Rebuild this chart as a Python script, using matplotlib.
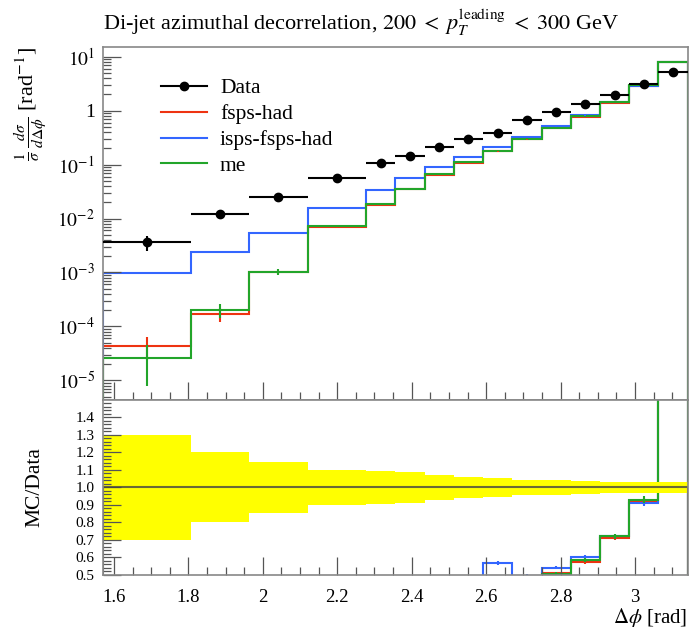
import matplotlib
matplotlib.use("Agg")
import matplotlib.pyplot as plt
from matplotlib.lines import Line2D
from matplotlib.ticker import MultipleLocator, FixedLocator, LogLocator, NullFormatter, FuncFormatter
import numpy as np

# bin edges in delta phi [rad]
edges = [1.571, 1.806, 1.963, 2.121, 2.278, 2.356, 2.435, 2.513, 2.592,
         2.670, 2.749, 2.827, 2.906, 2.985, 3.063, 3.142]

data = [3.6e-3, 1.22e-2, 2.49e-2, 5.7e-2, 0.109, 0.143, 0.21, 0.295, 0.381,
        0.664, 0.946, 1.35, 1.98, 3.16, 5.2]
data_rel = [0.30, 0.20, 0.145, 0.10, 0.095, 0.09, 0.072, 0.062, 0.052,
            0.045, 0.042, 0.038, 0.033, 0.03, 0.03]

fsps = [4.3e-5, 1.72e-4, 1.0e-3, 6.9e-3, 0.018, 0.0355, 0.064, 0.108, 0.178,
        0.295, 0.482, 0.778, 1.41, 2.91, 8.0]
fsps_rel = [0.45, 0.30, 0.06, 0.03, 0.03, 0.02, 0.02, 0.02, 0.02,
            0.02, 0.02, 0.02, 0.02, 0.02, 0.02]
isps = [9.8e-4, 2.39e-3, 5.37e-3, 0.016, 0.034, 0.0575, 0.0906, 0.137, 0.216,
        0.33, 0.513, 0.814, 1.43, 2.88, 8.0]
isps_rel = [0.04, 0.05, 0.04, 0.03, 0.02, 0.02, 0.02, 0.02, 0.02,
            0.02, 0.02, 0.02, 0.02, 0.02, 0.02]
me = [2.6e-5, 2.0e-4, 1.03e-3, 7.2e-3, 0.0185, 0.036, 0.0664, 0.111, 0.18,
      0.30, 0.48, 0.788, 1.43, 2.94, 8.1]
me_rel = [0.70, 0.28, 0.12, 0.05, 0.03, 0.02, 0.02, 0.02, 0.02,
          0.02, 0.02, 0.02, 0.02, 0.02, 0.02]

ratio_ticks = [0.5, 0.6, 0.7, 0.8, 0.9, 1.0, 1.1, 1.2, 1.3, 1.4]

plt.rcParams['font.family'] = ['Liberation Serif', 'DejaVu Serif']
plt.rcParams['mathtext.fontset'] = 'stix'

edges = np.array(edges)
centers = 0.5 * (edges[1:] + edges[:-1])
halfw = 0.5 * (edges[1:] - edges[:-1])
data = np.array(data)
data_err = data * np.array(data_rel)

fig = plt.figure(figsize=(6.92, 6.30), dpi=100)
ax1 = fig.add_axes([0.149, 0.365, 0.845, 0.560])
ax2 = fig.add_axes([0.149, 0.0873, 0.845, 0.278], sharex=ax1)

mcs = [('fsps-had', fsps, fsps_rel, '#EE3311'),
       ('isps-fsps-had', isps, isps_rel, '#3366FF'),
       ('me', me, me_rel, '#22A52A')]

handles = [Line2D([], [], color='k', marker='o', ms=6, lw=1.5)]
for name, vals, rel, col in mcs:
    vals = np.array(vals)
    err = vals * np.array(rel)
    ax1.stairs(vals, edges, color=col, lw=1.5)
    ax1.errorbar(centers, vals, yerr=err, fmt='none', ecolor=col, elinewidth=1.5)
    r = vals / data
    ax2.stairs(r, edges, color=col, lw=1.5)
    ax2.errorbar(centers, r, yerr=r * np.array(rel), fmt='none', ecolor=col, elinewidth=1.5)
    handles.append(Line2D([], [], color=col, lw=1.5))

ax1.errorbar(centers, data, xerr=halfw, yerr=data_err, fmt='o', color='k',
             ms=6, elinewidth=1.5, capsize=0, zorder=5)

# ratio band
rel = np.array(data_rel)
ax2.stairs(1 + rel, edges, baseline=1 - rel, fill=True, color='#ffff00', zorder=1)
ax2.stairs(np.ones(len(data)), edges, color='#444444', lw=1.5, alpha=0.8, zorder=2)

ax1.set_yscale('log')
ax1.set_xlim(edges[0], edges[-1])
ax1.set_ylim(4.3e-6, 15)
ax2.set_ylim(0.5, 1.5)


def logfmt(v, pos):
    e = int(round(np.log10(v)))
    if e == 0:
        return '1'
    return r'$10^{%d}$' % e


ax1.yaxis.set_major_locator(LogLocator(base=10, numticks=20))
ax1.yaxis.set_major_formatter(FuncFormatter(logfmt))
ax1.yaxis.set_minor_locator(LogLocator(base=10, subs=np.arange(2, 10), numticks=20))
ax1.yaxis.set_minor_formatter(NullFormatter())

ax2.xaxis.set_major_locator(MultipleLocator(0.2))
ax2.xaxis.set_minor_locator(MultipleLocator(0.05))
ax2.xaxis.set_major_formatter(FuncFormatter(lambda v, p: '%g' % round(v, 2)))
ax2.yaxis.set_major_locator(FixedLocator(ratio_ticks))
ax2.yaxis.set_major_formatter(FuncFormatter(lambda v, p: '%.1f' % v))
minor = [m for m in np.arange(0.5, 1.5, 0.02)
         if min(abs(m - t) for t in ratio_ticks) > 1e-3]
ax2.yaxis.set_minor_locator(FixedLocator(minor))
ax2.yaxis.set_minor_formatter(NullFormatter())

for ax in (ax1, ax2):
    ax.tick_params(which='both', direction='in', top=False, right=False,
                   color='#555555', width=0.9)
    ax.tick_params(which='major', length=13)
    ax.tick_params(which='minor', length=6)
    ax.tick_params(axis='x', pad=10, labelsize=13.5)
    for s in ax.spines.values():
        s.set_color('#888888')
        s.set_linewidth(1.2)
ax1.tick_params(axis='x', labelbottom=False)
ax1.tick_params(axis='y', labelsize=14, pad=6)
ax2.tick_params(axis='y', labelsize=11, pad=6)

ax1.set_ylabel(r'$\frac{1}{\sigma}\,\frac{d\sigma}{d\Delta\phi}$ [rad$^{-1}$]',
               loc='top', fontsize=16, va='center')
ax1.yaxis.set_label_coords(-0.125, 1.0)
ax2.set_ylabel('MC/Data', fontsize=15.5, va='center')
ax2.yaxis.set_label_coords(-0.116, 0.5)
ax2.set_xlabel(r'$\Delta\phi$ [rad]', loc='right', fontsize=15)
ax2.xaxis.set_label_coords(1.0, -0.175)

fig.text(103 / 692, 1 - 22 / 630,
         r'Di-jet azimuthal decorrelation, $200 \;<\; p_T^{\mathrm{leading}} \;<\; 300$ GeV',
         ha='left', va='center', fontsize=16)

ax1.legend(handles, ['Data', 'fsps-had', 'isps-fsps-had', 'me'], loc='upper left',
           bbox_to_anchor=(0.099, 0.912), frameon=False, fontsize=15.5,
           borderpad=0, borderaxespad=0, handlelength=2.14, handletextpad=0.6,
           labelspacing=0.27)

fig.savefig('out.png', dpi=100)
